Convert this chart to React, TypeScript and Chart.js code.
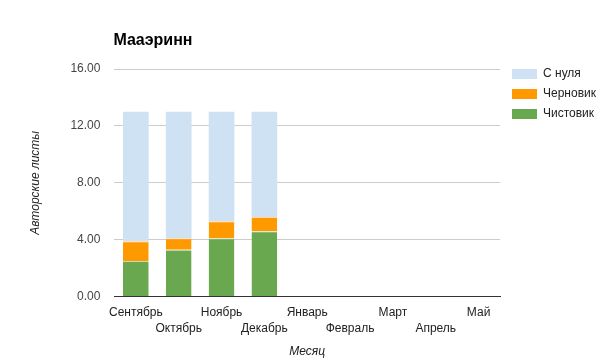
import React, { useEffect, useRef } from "react";
import { Chart, registerables } from "chart.js";

Chart.register(...registerables);

const TITLE = "Мааэринн";
const categories = ["Сентябрь", "Октябрь", "Ноябрь", "Декабрь", "Январь", "Февраль", "Март", "Апрель", "Май"];
const chistovik = [2.5, 3.3, 4.1, 4.6, null, null, null, null, null];
const chernovik = [1.4, 0.8, 1.2, 1.0, null, null, null, null, null];
const sNulya = [9.1, 8.9, 7.7, 7.4, null, null, null, null, null];
const yTicks = [0, 4, 8, 12, 16];

const FONT = "'Liberation Sans', Arial, sans-serif";

const titleLegendPlugin = {
  id: "titleLegend",
  afterDraw(chart: any) {
    const ctx = chart.ctx;
    const area = chart.chartArea;
    ctx.save();
    ctx.font = `bold 16px ${FONT}`;
    ctx.fillStyle = "#000";
    ctx.textBaseline = "middle";
    ctx.textAlign = "left";
    ctx.fillText(TITLE, area.left - 1, 41);
    const ds = [...chart.data.datasets].reverse();
    ctx.font = `12px ${FONT}`;
    ds.forEach((d: any, i: number) => {
      const y = 69 + i * 20;
      ctx.fillStyle = d.backgroundColor;
      ctx.fillRect(512, y, 25, 10);
      ctx.fillStyle = "#222";
      ctx.fillText(d.label, 543, y + 5);
    });
    ctx.restore();
  },
};

export default function App() {
  const ref = useRef<HTMLCanvasElement>(null);
  useEffect(() => {
    if (!ref.current) return;
    const chart = new Chart(ref.current, {
      type: "bar",
      data: {
        labels: categories,
        datasets: [
          { label: "Чистовик", data: chistovik, backgroundColor: "#6aa84f", borderColor: "#c8dcbe", borderWidth: { top: 1 } as any, borderSkipped: false },
          { label: "Черновик", data: chernovik, backgroundColor: "#ff9900", borderColor: "#ffd699", borderWidth: { top: 1 } as any, borderSkipped: false },
          { label: "С нуля", data: sNulya, backgroundColor: "#cfe2f3", borderWidth: 0 },
        ],
      },
      options: {
        animation: false,
        responsive: false,
        layout: { padding: { left: 24, right: 105, top: 69, bottom: 0 } },
        datasets: { bar: { categoryPercentage: 1, barPercentage: 0.6 } },
        plugins: { legend: { display: false }, title: { display: false }, tooltip: { enabled: false } },
        scales: {
          x: {
            stacked: true,
            grid: { display: false, drawTicks: false },
            border: { display: true, color: "#333" },
            ticks: {
              autoSkip: false,
              maxRotation: 0,
              minRotation: 0,
              padding: 8,
              color: "#222",
              font: { family: FONT, size: 12, lineHeight: 1.333 },
              callback: (_v: any, i: number) => (i % 2 === 1 ? ["", categories[i]] : [categories[i], ""]),
            },
            title: {
              display: true,
              text: "Месяц",
              color: "#222",
              font: { family: FONT, size: 12, style: "italic" },
              padding: { top: 0, bottom: 1 },
            },
          },
          y: {
            stacked: true,
            min: 0,
            max: 16,
            afterBuildTicks: (axis: any) => {
              axis.ticks = yTicks.map((v) => ({ value: v }));
            },
            grid: { color: "#cccccc", drawTicks: false },
            border: { display: false },
            ticks: {
              padding: 14,
              color: "#444",
              font: { family: FONT, size: 12 },
              callback: (v: any) => Number(v).toFixed(2),
            },
            title: {
              display: true,
              text: "Авторские листы",
              color: "#222",
              font: { family: FONT, size: 12, style: "italic" },
              padding: { top: 4, bottom: 14 },
            },
          },
        },
      },
      plugins: [titleLegendPlugin],
    });
    return () => chart.destroy();
  }, []);
  return (
    <div style={{ position: "absolute", left: 0, top: 0, width: 605, height: 360, background: "#fff" }}>
      <canvas ref={ref} width={605} height={360} />
    </div>
  );
}
